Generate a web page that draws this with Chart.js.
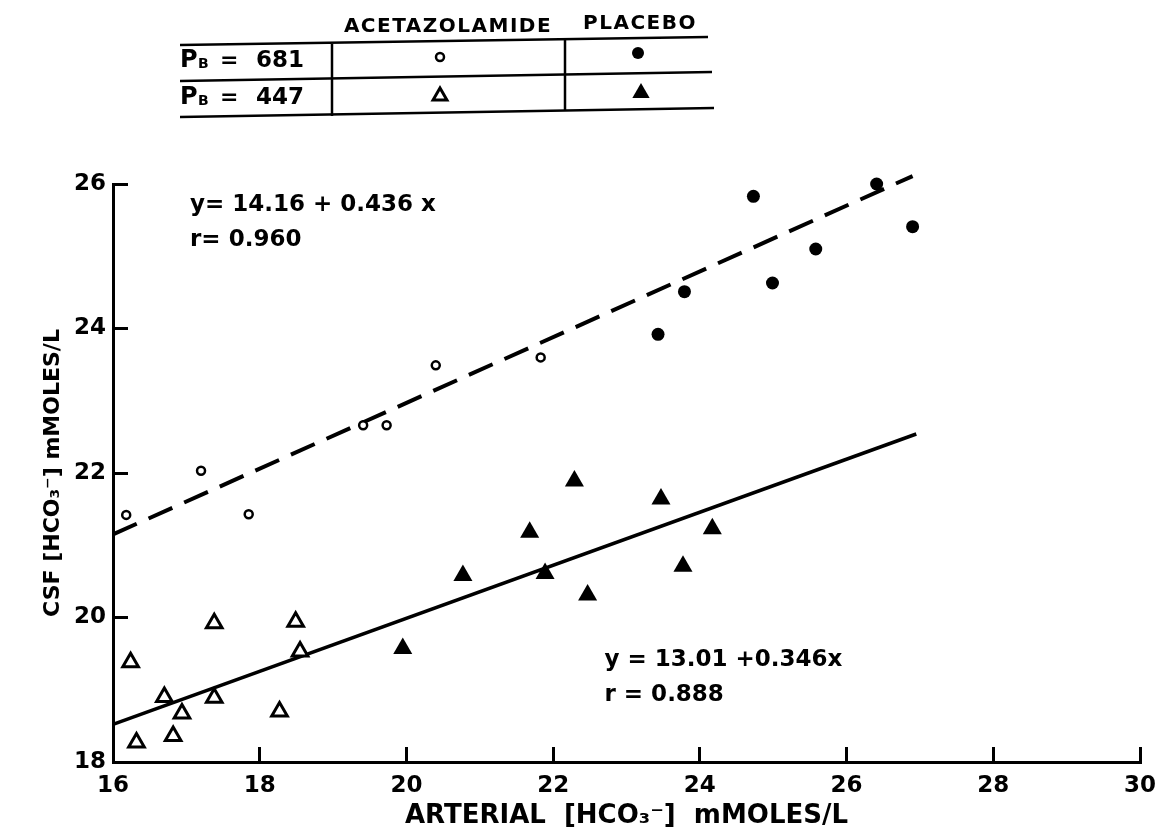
<!DOCTYPE html>
<html>
<head>
<meta charset="utf-8">
<title>CSF vs arterial bicarbonate</title>
<script src="https://cdn.jsdelivr.net/npm/chart.js@4.4.0/dist/chart.umd.min.js"></script>
<style>
  html, body { margin: 0; padding: 0; background: #fff; }
  canvas { display: block; }
</style>
</head>
<body>
<canvas id="hcoChart" width="1158" height="839"></canvas>
<script>
// ticks
const xTicks = [16, 18, 20, 22, 24, 26, 28, 30];
const yTicks = [18, 20, 22, 24, 26];

// acetazolamide, PB = 681 (open circles)
const aceta681X = [16.18, 17.20, 17.85, 19.41, 19.73, 20.40, 21.83];
const aceta681Y = [21.42, 22.03, 21.43, 22.66, 22.66, 23.49, 23.60];

// placebo, PB = 681 (filled circles)
const placebo681X = [23.43, 23.79, 24.73, 24.99, 25.58, 26.41, 26.90];
const placebo681Y = [23.92, 24.51, 25.83, 24.63, 25.10, 26.00, 25.41];

// acetazolamide, PB = 447 (open triangles)
const aceta447X = [16.24, 16.32, 16.70, 16.82, 16.94, 17.38, 17.38, 18.27, 18.49, 18.55];
const aceta447Y = [19.38, 18.27, 18.90, 18.36, 18.67, 19.92, 18.89, 18.70, 19.94, 19.53];

// placebo, PB = 447 (filled triangles)
const placebo447X = [19.95, 20.77, 21.68, 21.89, 22.29, 22.47, 23.47, 23.77, 24.17];
const placebo447Y = [19.57, 20.58, 21.18, 20.61, 21.89, 20.31, 21.64, 20.71, 21.23];

// regression lines, end points as drawn
const fit681X = [16, 26.90];
const fit681Y = [21.15, 26.11];
const fit447X = [16, 26.95];
const fit447Y = [18.52, 22.54];

const fitText681 = ['y= 14.16 + 0.436 x', 'r= 0.960'];
const fitText447 = ['y = 13.01 +0.346x', 'r = 0.888'];

const tableHead = ['ACETAZOLAMIDE', 'PLACEBO'];
const tableRows = ['681', '447'];

function pts(xs, ys) {
  return xs.map((x, i) => ({ x: x, y: ys[i] }));
}

const FONT = 'DejaVu Sans';

// regression equations written inside the plot
const fitLabels = {
  id: 'fitLabels',
  afterDatasetsDraw(chart) {
    const ctx = chart.ctx;
    const xs = chart.scales.x, ys = chart.scales.y;
    ctx.save();
    ctx.fillStyle = '#000';
    ctx.font = 'bold 23px "' + FONT + '"';
    ctx.textAlign = 'left';
    ctx.textBaseline = 'middle';
    ctx.fillText(fitText681[0], xs.getPixelForValue(17.05), ys.getPixelForValue(25.71));
    ctx.fillText(fitText681[1], xs.getPixelForValue(17.05), ys.getPixelForValue(25.22));
    ctx.fillText(fitText447[0], xs.getPixelForValue(22.70), ys.getPixelForValue(19.41));
    ctx.fillText(fitText447[1], xs.getPixelForValue(22.70), ys.getPixelForValue(18.92));
    ctx.restore();
  }
};

// key table drawn above the plot
const keyTable = {
  id: 'keyTable',
  afterDraw(chart) {
    const ctx = chart.ctx;
    ctx.save();
    ctx.strokeStyle = '#000';
    ctx.fillStyle = '#000';
    ctx.lineWidth = 2.5;
    const rules = [
      [180, 45, 708, 37],
      [180, 81, 712, 72],
      [180, 117, 714, 108],
      [332, 44, 332, 116],
      [565, 38, 565, 110]
    ];
    rules.forEach(r => {
      ctx.beginPath();
      ctx.moveTo(r[0], r[1]);
      ctx.lineTo(r[2], r[3]);
      ctx.stroke();
    });

    ctx.textBaseline = 'middle';
    ctx.textAlign = 'center';
    ctx.font = 'bold 20px "' + FONT + '"';
    ctx.letterSpacing = '1.5px';
    ctx.fillText(tableHead[0], 448, 27);
    ctx.fillText(tableHead[1], 640, 24);
    ctx.letterSpacing = '0px';

    [61, 98].forEach((y, i) => {
      ctx.textAlign = 'left';
      ctx.font = 'bold 24px "' + FONT + '"';
      ctx.fillText('P', 180, y);
      ctx.font = 'bold 14px "' + FONT + '"';
      ctx.fillText('B', 198, y + 3);
      ctx.font = 'bold 22px "' + FONT + '"';
      ctx.fillText('=', 220, y);
      ctx.font = 'bold 23px "' + FONT + '"';
      ctx.textAlign = 'right';
      ctx.fillText(tableRows[i], 304, y);
    });

    // symbols
    ctx.lineWidth = 2.5;
    ctx.beginPath();
    ctx.arc(440, 57, 4, 0, Math.PI * 2);
    ctx.stroke();
    ctx.beginPath();
    ctx.arc(638, 53, 6, 0, Math.PI * 2);
    ctx.fill();
    const tri = (x, y, r) => {
      ctx.beginPath();
      ctx.moveTo(x, y - r);
      ctx.lineTo(x + r * 0.866, y + r / 2);
      ctx.lineTo(x - r * 0.866, y + r / 2);
      ctx.closePath();
    };
    ctx.lineWidth = 3;
    tri(440, 96, 8);
    ctx.stroke();
    tri(641, 93, 10);
    ctx.fill();
    ctx.restore();
  }
};

const ctx = document.getElementById('hcoChart').getContext('2d');
const hcoChart = new Chart(ctx, {
  type: 'scatter',
  data: {
    datasets: [{
      label: 'Acetazolamide, PB = 681',
      data: pts(aceta681X, aceta681Y),
      pointStyle: 'circle',
      pointRadius: 4,
      borderWidth: 2.5,
      borderColor: '#000',
      backgroundColor: '#fff',
      clip: false
    }, {
      label: 'Placebo, PB = 681',
      data: pts(placebo681X, placebo681Y),
      pointStyle: 'circle',
      pointRadius: 6.5,
      borderWidth: 0,
      borderColor: '#000',
      backgroundColor: '#000',
      clip: false
    }, {
      label: 'Acetazolamide, PB = 447',
      data: pts(aceta447X, aceta447Y),
      pointStyle: 'triangle',
      pointRadius: 9,
      borderWidth: 3,
      borderColor: '#000',
      backgroundColor: '#fff',
      clip: false
    }, {
      label: 'Placebo, PB = 447',
      data: pts(placebo447X, placebo447Y),
      pointStyle: 'triangle',
      pointRadius: 11,
      borderWidth: 0,
      borderColor: '#000',
      backgroundColor: '#000',
      clip: false
    }, {
      label: 'Fit PB = 681',
      data: pts(fit681X, fit681Y),
      showLine: true,
      borderColor: '#000',
      borderWidth: 4,
      borderDash: [26, 13],
      pointRadius: 0,
      clip: false,
      order: 5
    }, {
      label: 'Fit PB = 447',
      data: pts(fit447X, fit447Y),
      showLine: true,
      borderColor: '#000',
      borderWidth: 3.5,
      pointRadius: 0,
      clip: false,
      order: 5
    }]
  },
  options: {
    responsive: false,
    animation: false,
    layout: {
      padding: { top: 184, right: 18, bottom: 0, left: 0 }
    },
    plugins: {
      legend: { display: false },
      tooltip: { enabled: false }
    },
    scales: {
      x: {
        type: 'linear',
        min: 16,
        max: 30,
        afterBuildTicks: s => { s.ticks = xTicks.map(v => ({ value: v })); },
        afterFit: s => { s.height = 77; s.paddingLeft = 14; s.paddingRight = 14; },
        border: { display: true, color: '#000', width: 3 },
        grid: { drawOnChartArea: false, drawTicks: true, tickLength: -15, color: '#000', lineWidth: 3 },
        ticks: {
          color: '#000',
          padding: 25,
          maxRotation: 0,
          font: { family: FONT, size: 23, weight: 'bold' }
        },
        title: {
          display: true,
          text: 'ARTERIAL  [HCO\u2083\u207B]  mMOLES/L',
          color: '#000',
          padding: { top: 0, bottom: 7 },
          font: { family: FONT, size: 26, weight: 'bold' }
        }
      },
      y: {
        type: 'linear',
        min: 18,
        max: 26,
        afterBuildTicks: s => { s.ticks = yTicks.map(v => ({ value: v })); },
        afterFit: s => { s.width = 113; },
        border: { display: true, color: '#000', width: 3 },
        grid: { drawOnChartArea: false, drawTicks: true, tickLength: -15, color: '#000', lineWidth: 3 },
        ticks: {
          color: '#000',
          padding: 22,
          font: { family: FONT, size: 23, weight: 'bold' }
        },
        title: {
          display: true,
          text: 'CSF [HCO\u2083\u207B] mMOLES/L',
          color: '#000',
          padding: { top: 40, bottom: 0 },
          font: { family: FONT, size: 22, weight: 'bold' }
        }
      }
    }
  },
  plugins: [fitLabels, keyTable]
});
</script>
</body>
</html>
